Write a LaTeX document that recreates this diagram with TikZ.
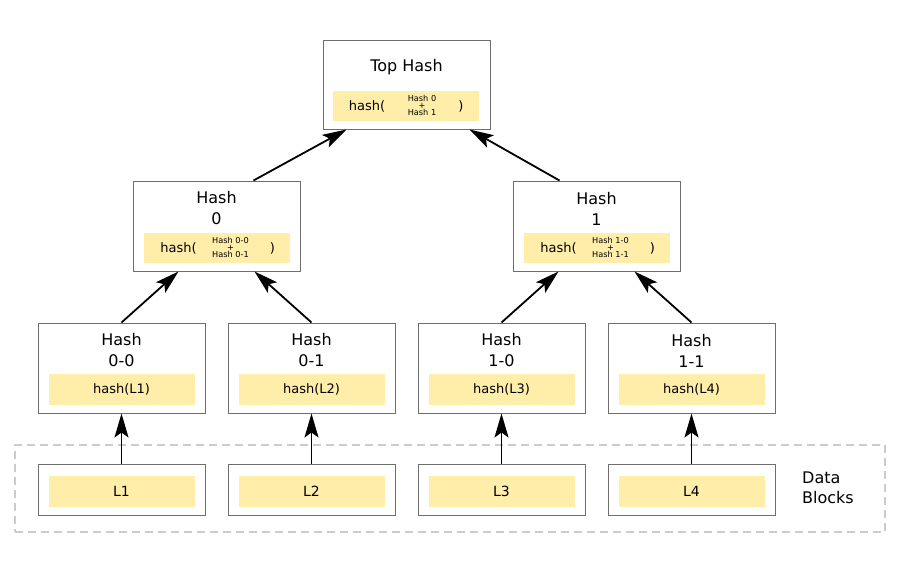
\documentclass[tikz,border=0pt]{standalone}
\usepackage{fontspec}
\setmainfont{DejaVu Sans}
\usetikzlibrary{arrows.meta,calc}
\definecolor{boxgray}{HTML}{6E6E6E}
\definecolor{hashyellow}{HTML}{FFEEAA}
\definecolor{dashgray}{HTML}{CCCCCC}
\tikzset{
  hbox/.style={draw=boxgray, line width=1pt, fill=white, minimum width=167pt, minimum height=90pt, inner sep=0pt},
  dbox/.style={hbox, minimum height=51pt},
  ybox/.style={fill=hashyellow, minimum width=146pt, minimum height=30.5pt, inner sep=0pt},
  title/.style={font=\fontsize{16}{21}\selectfont, inner sep=0pt, align=center},
  hfun/.style={font=\fontsize{13}{15}\selectfont, inner sep=0pt},
  lbl/.style={font=\fontsize{14}{16}\selectfont, inner sep=0pt},
  small/.style={font=\fontsize{8.2}{7.3}\selectfont, inner sep=0pt, align=center},
  link/.style={line width=1.8pt, -{Stealth[length=24pt,width=14pt,inset=5pt]}},
  group/.style={draw=dashgray, line width=1.6pt, dash pattern=on 8pt off 5pt, minimum width=870pt, minimum height=87pt, inner sep=0pt}
}
\begin{document}
\begin{tikzpicture}[x=1pt,y=-1pt]
\useasboundingbox (0,0) rectangle (900,573);

% dashed group
\node[group] (grp) at (450,488.5) {};
\node[anchor=west, align=left, font=\fontsize{16}{20}\selectfont, inner sep=0pt] (dbl) at (802,488) {Data\\Blocks};

% top hash
\node[hbox, minimum height=89pt] (top) at (406.5,84.5) {};
\node[title] (toptxt) at (406.5,67) {Top Hash};
\node[ybox] (topy) at (406,106) {};
\node[hfun] (toph) at (367,106) {hash(};
\node[small] (tops) at (422,105.5) {Hash 0\\+\\Hash 1};
\node[hfun] (topc) at (461,106) {)};

% level 1
\foreach \nm/\x/\d in {h0/216.5/0, h1/596.5/1}{
  \node[hbox] (\nm) at (\x,226) {};
  \node[title] (\nm t) at (\x,208.5) {Hash\\\d};
  \node[ybox] (\nm y) at (\x,248) {};
  \node[hfun] (\nm h) at ($(\nm y)+(-38,0)$) {hash(};
  \node[small] (\nm s) at ($(\nm y)+(14,-0.5)$) {Hash \d-0\\+\\Hash \d-1};
  \node[hfun] (\nm c) at ($(\nm y)+(56,0)$) {)};
}

% leaves
\foreach \nm/\x/\lab/\L in {h00/121.5/0-0/L1, h01/311.5/0-1/L2, h10/501.5/1-0/L3, h11/691.5/1-1/L4}{
  \node[hbox] (\nm) at (\x,368) {};
  \node[title] (\nm t) at (\x,350.5) {Hash\\\lab};
  \node[ybox, minimum height=31pt] (\nm y) at (\x,389.5) {};
  \node[hfun] (\nm h) at (\nm y) {hash(\L)};
  \node[dbox] (d\nm) at (\x,489.5) {};
  \node[ybox, minimum height=31pt] (d\nm y) at (\x,491.5) {};
  \node[lbl] (d\nm l) at (d\nm y) {\L};
  \draw[link] (d\nm.north) -- (\nm.south);
}

% tree links
\draw[link] (h00.north) -- ($(h0.south)+(-38,0)$);
\draw[link] (h01.north) -- ($(h0.south)+(38,0)$);
\draw[link] (h10.north) -- ($(h1.south)+(-38,0)$);
\draw[link] (h11.north) -- ($(h1.south)+(38,0)$);
\draw[link] ($(h0.north)+(37,0)$) -- ($(top.south)+(-60,0)$);
\draw[link] ($(h1.north)+(-37,0)$) -- ($(top.south)+(63,0)$);
\end{tikzpicture}
\end{document}
